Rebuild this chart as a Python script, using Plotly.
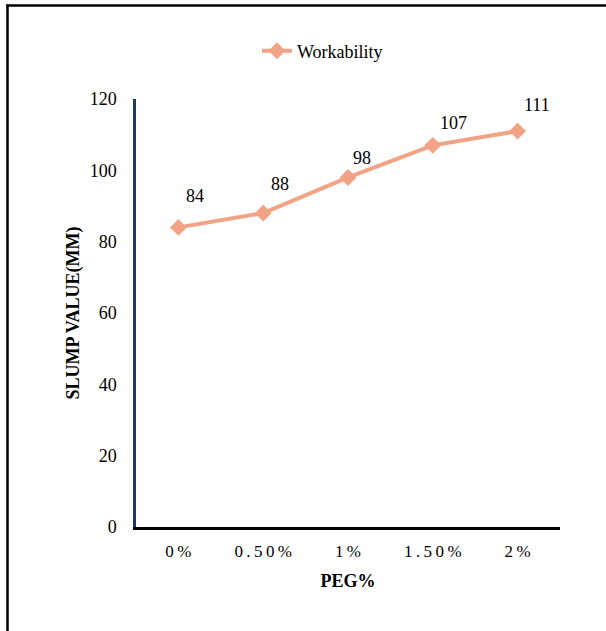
import plotly.graph_objects as go

categories = ["0%", "0.50%", "1%", "1.50%", "2%"]
tick_labels = ["0\u2009%", "0\u2009.\u20095\u20090\u2009%", "1\u2009%", "1\u2009.\u20095\u20090\u2009%", "2\u2009%"]
workability = [84, 88, 98, 107, 111]
y_ticks = [0, 20, 40, 60, 80, 100, 120]

# label offsets (px) for data labels
label_dx = [17, 17, 14, 21, 19]
label_dy = [31, 29, 19, 22, 26]

W, H = 606, 631
L, R, T, B = 136, 46, 99, 104
pw, ph = W - L - R, H - T - B

color = "#F2A385"
font = "Liberation Serif, Times New Roman, serif"

fig = go.Figure()
fig.add_trace(go.Scatter(
    x=categories, y=workability, mode="lines+markers", name="Workability",
    line=dict(color=color, width=4),
    marker=dict(symbol="diamond", size=13, color=color),
))

for c, v, dx, dy in zip(categories, workability, label_dx, label_dy):
    fig.add_annotation(x=c, y=v, text=str(v), showarrow=False,
                       xshift=dx, yshift=dy,
                       font=dict(family=font, size=18, color="#000000"))

def px_to_paper_x(p):
    return (p - L) / pw

def px_to_paper_y(p):
    return (H - B - p) / ph

# frame lines (top and left)
fig.add_shape(type="line", xref="paper", yref="paper",
              x0=px_to_paper_x(7.5), x1=px_to_paper_x(7.5),
              y0=px_to_paper_y(4.5), y1=px_to_paper_y(640),
              line=dict(color="black", width=2.5))
fig.add_shape(type="line", xref="paper", yref="paper",
              x0=px_to_paper_x(6.3), x1=px_to_paper_x(610),
              y0=px_to_paper_y(5.5), y1=px_to_paper_y(5.5),
              line=dict(color="black", width=2.5))

fig.update_layout(
    width=W, height=H,
    margin=dict(l=L, r=R, t=T, b=B, autoexpand=False),
    paper_bgcolor="white", plot_bgcolor="white",
    font=dict(family=font, size=18, color="#000000"),
    showlegend=True,
    legend=dict(orientation="h", x=257 / W, xanchor="left", xref="container",
                y=1 - 51 / H, yanchor="middle", yref="container",
                font=dict(family=font, size=18), itemwidth=30),
    xaxis=dict(
        type="category", tickmode="array", tickvals=categories, ticktext=tick_labels,
        showgrid=False, zeroline=False, showline=True, linecolor="black", linewidth=3,
        ticks="", ticklen=0, ticklabelstandoff=7, automargin=False, tickangle=0,
        tickfont=dict(family=font, size=17),
        title=dict(text="<b>PEG%</b>", font=dict(family=font, size=18), standoff=14),
        range=[-0.5, 4.5],
    ),
    yaxis=dict(
        range=[0, 120], tickvals=y_ticks, showgrid=False, zeroline=False,
        showline=True, linecolor="#1F3864", linewidth=2.5, automargin=False,
        ticks="", ticklen=0, ticklabelstandoff=13,
        tickfont=dict(family=font, size=18),
        title=dict(text="<b>SLUMP VALUE(MM)</b>", font=dict(family=font, size=18), standoff=6),
    ),
)

fig.write_html("out.html", config={"displayModeBar": False},
               post_script="document.body.style.margin='0';document.body.style.overflow='hidden';")
